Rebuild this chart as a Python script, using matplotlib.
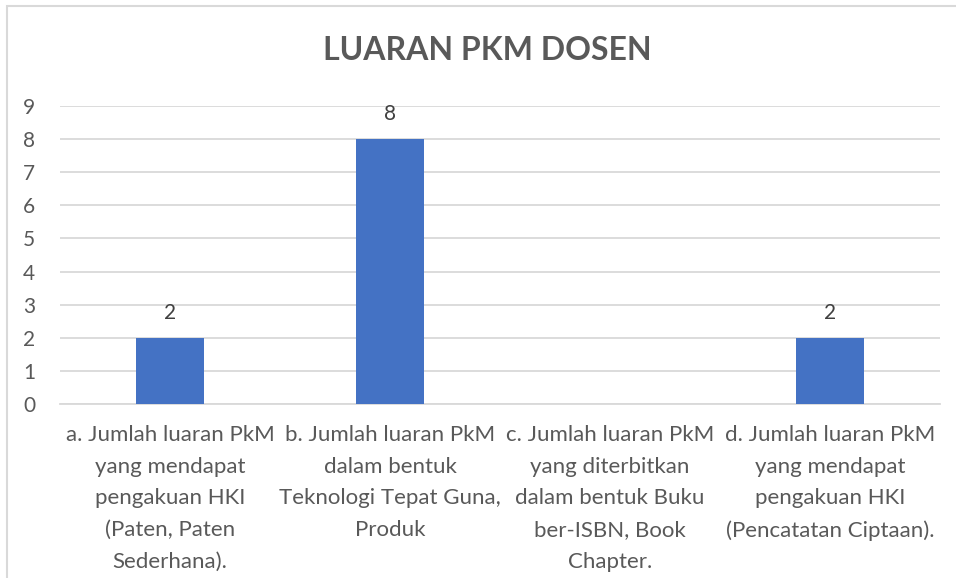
"""
Grafik batang: Luaran PkM Dosen
"""
import matplotlib.pyplot as plt
from matplotlib.patches import Rectangle

# data
categories = [
    "a. Jumlah luaran PkM\nyang mendapat\npengakuan HKI\n(Paten, Paten\nSederhana).",
    "b. Jumlah luaran PkM\ndalam bentuk\nTeknologi Tepat Guna,\nProduk",
    "c. Jumlah luaran PkM\nyang diterbitkan\ndalam bentuk Buku\nber-ISBN, Book\nChapter.",
    "d. Jumlah luaran PkM\nyang mendapat\npengakuan HKI\n(Pencatatan Ciptaan).",
]
values = [2, 8, 0, 2]
yticks = list(range(0, 10))
title = "LUARAN PKM DOSEN"

text_color = '#595959'
grid_color = '#D9D9D9'
bar_color = '#4472C4'

plt.rcParams['font.family'] = ['Lato', 'DejaVu Sans']

fig = plt.figure(figsize=(9.56, 5.78), dpi=100)
ax = fig.add_axes([60 / 956, 1 - 404 / 578, 880 / 956, 298 / 578])

# bingkai chart (hanya kiri dan atas terlihat)
fig.patches.append(Rectangle((7 / 956, -0.1), 1.2, 1 - 6 / 578 + 0.1,
                             transform=fig.transFigure, fill=False,
                             edgecolor=grid_color, linewidth=1.5))

x = list(range(len(categories)))
bars = ax.bar(x, values, width=0.31, color=bar_color, zorder=3)

for rect, v in zip(bars, values):
    if v:
        ax.annotate(str(v), (rect.get_x() + rect.get_width() / 2, v),
                    xytext=(0, 11), textcoords='offset points',
                    ha='center', va='bottom', fontsize=15, color='#404040')

ax.set_xlim(-0.5, len(categories) - 0.5)
ax.set_ylim(0, 9)
ax.set_yticks(yticks)
ax.set_xticks(x)
ax.set_xticklabels(categories, fontsize=16, color=text_color, linespacing=1.73)
ax.tick_params(axis='y', labelsize=15, labelcolor=text_color, length=0, pad=18)
ax.tick_params(axis='x', length=0, pad=15)

ax.grid(axis='y', color=grid_color, linewidth=1.3, zorder=0)
for side in ['top', 'right', 'left']:
    ax.spines[side].set_visible(False)
ax.spines['bottom'].set_color(grid_color)
ax.spines['bottom'].set_linewidth(1.3)

fig.text(487 / 956, 1 - 51 / 578, title, ha='center', va='center',
         fontsize=23, fontweight='bold', color=text_color)

plt.savefig('out.png', dpi=100)
plt.close()
